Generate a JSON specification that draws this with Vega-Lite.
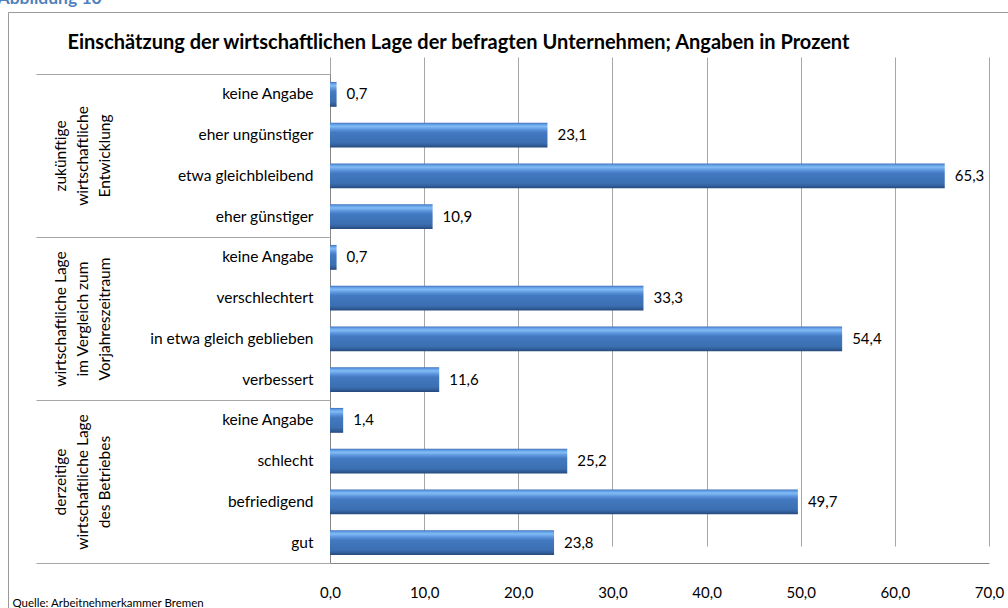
{
  "$schema": "https://vega.github.io/schema/vega-lite/v6.json",
  "width": 1000,
  "height": 596,
  "autosize": {"type": "none"},
  "padding": {"left": 8, "top": 12, "right": 0, "bottom": 0},
  "background": "white",
  "config": {
    "locale": {"number": {"decimal": ",", "thousands": ".", "grouping": [3], "currency": ["", " €"]}},
    "view": {"stroke": "#9a9a9a", "strokeWidth": 1},
    "font": "Lato"
  },
  "data": {
    "values": [
      {"k": "1|keine Angabe", "group": "zukünftige|wirtschaftliche|Entwicklung", "value": 0.7},
      {"k": "1|eher ungünstiger", "group": "zukünftige|wirtschaftliche|Entwicklung", "value": 23.1},
      {"k": "1|etwa gleichbleibend", "group": "zukünftige|wirtschaftliche|Entwicklung", "value": 65.3},
      {"k": "1|eher günstiger", "group": "zukünftige|wirtschaftliche|Entwicklung", "value": 10.9},
      {"k": "2|keine Angabe", "group": "wirtschaftliche Lage|im Vergleich zum|Vorjahreszeitraum", "value": 0.7},
      {"k": "2|verschlechtert", "group": "wirtschaftliche Lage|im Vergleich zum|Vorjahreszeitraum", "value": 33.3},
      {"k": "2|in etwa gleich geblieben", "group": "wirtschaftliche Lage|im Vergleich zum|Vorjahreszeitraum", "value": 54.4},
      {"k": "2|verbessert", "group": "wirtschaftliche Lage|im Vergleich zum|Vorjahreszeitraum", "value": 11.6},
      {"k": "3|keine Angabe", "group": "derzeitige|wirtschaftliche Lage|des Betriebes", "value": 1.4},
      {"k": "3|schlecht", "group": "derzeitige|wirtschaftliche Lage|des Betriebes", "value": 25.2},
      {"k": "3|befriedigend", "group": "derzeitige|wirtschaftliche Lage|des Betriebes", "value": 49.7},
      {"k": "3|gut", "group": "derzeitige|wirtschaftliche Lage|des Betriebes", "value": 23.8}
    ]
  },
  "layer": [
    {
      "encoding": {
        "y": {
          "field": "k", "type": "nominal", "sort": null,
          "scale": {"range": [62, 551], "paddingInner": 0.39, "paddingOuter": 0.195},
          "axis": {
            "orient": "left", "offset": -322, "ticks": false, "domain": true, "domainColor": "#868686",
            "labelPadding": 17, "labelFontSize": 15.5, "labelColor": "black", "labelFont": "Lato",
            "labelExpr": "split(datum.label,'|')[1]", "labelLimit": 0, "grid": false,
            "title": "Einschätzung der wirtschaftlichen Lage der befragten Unternehmen; Angaben in Prozent",
            "titleAngle": 0, "titleX": -263, "titleY": 36, "titleAlign": "left", "titleBaseline": "alphabetic",
            "titleFontSize": 20, "titleFontWeight": "bold", "titleColor": "black", "titleFont": "Lato", "titleLimit": 2000
          }
        },
        "x": {
          "field": "value", "type": "quantitative",
          "scale": {"domain": [0, 70], "range": [322, 981], "nice": false, "zero": true},
          "axis": {
            "orient": "bottom", "offset": -45, "values": [0, 10, 20, 30, 40, 50, 60, 70], "format": ".1f",
            "grid": true, "gridColor": "#a6a6a6", "ticks": false, "domainColor": "#868686",
            "labelPadding": 22, "labelFontSize": 15, "labelColor": "black", "labelFont": "Lato", "labelFlush": false,
            "title": "Quelle: Arbeitnehmerkammer Bremen", "titleX": 4, "titleY": 43, "titleAlign": "left",
            "titleAnchor": "start", "titleBaseline": "alphabetic", "titleFontSize": 11.5, "titleFontWeight": "normal",
            "titleColor": "black", "titleFont": "Lato"
          }
        }
      },
      "layer": [
        {
          "mark": {
            "type": "bar",
            "color": {
              "x1": 0, "y1": 0, "x2": 0, "y2": 1, "gradient": "linear",
              "stops": [
                {"offset": 0, "color": "#3c6cb0"},
                {"offset": 0.06, "color": "#5f9be6"},
                {"offset": 0.15, "color": "#82bcf4"},
                {"offset": 0.28, "color": "#5a93dc"},
                {"offset": 0.4, "color": "#4279c0"},
                {"offset": 0.8, "color": "#3b6fb2"},
                {"offset": 0.9, "color": "#335f9c"},
                {"offset": 1, "color": "#24487a"}
              ]
            }
          }
        },
        {
          "mark": {"type": "text", "align": "left", "baseline": "middle", "dx": 10, "fontSize": 15, "color": "black", "font": "Lato"},
          "encoding": {"text": {"field": "value", "type": "quantitative", "format": ".1f"}}
        }
      ]
    },
    {
      "mark": {"type": "point", "opacity": 0},
      "encoding": {
        "y": {
          "field": "group", "type": "nominal", "sort": null,
          "scale": {"range": [62, 551], "paddingInner": 0, "paddingOuter": 0},
          "axis": {
            "orient": "left", "offset": -322, "tickBand": "extent", "ticks": true, "tickSize": 294,
            "tickColor": "#a6a6a6", "domain": false, "grid": false,
            "labelAngle": -90, "labelAlign": "center", "labelBaseline": "middle", "labelPadding": -24,
            "labelExpr": "split(datum.label,'|')", "labelFontSize": 15.5, "labelLineHeight": 22,
            "labelColor": "black", "labelFont": "Lato", "labelLimit": 0, "labelOverlap": false, "labelBound": false,
            "title": "Abbildung 10", "titleAngle": 0, "titleX": -333, "titleY": -9, "titleAlign": "left",
            "titleBaseline": "alphabetic", "titleFontSize": 17.5, "titleFontWeight": "bold", "titleColor": "#4f81bd",
            "titleFont": "Lato"
          }
        }
      }
    }
  ],
  "resolve": {"scale": {"y": "independent"}, "axis": {"y": "independent"}}
}
